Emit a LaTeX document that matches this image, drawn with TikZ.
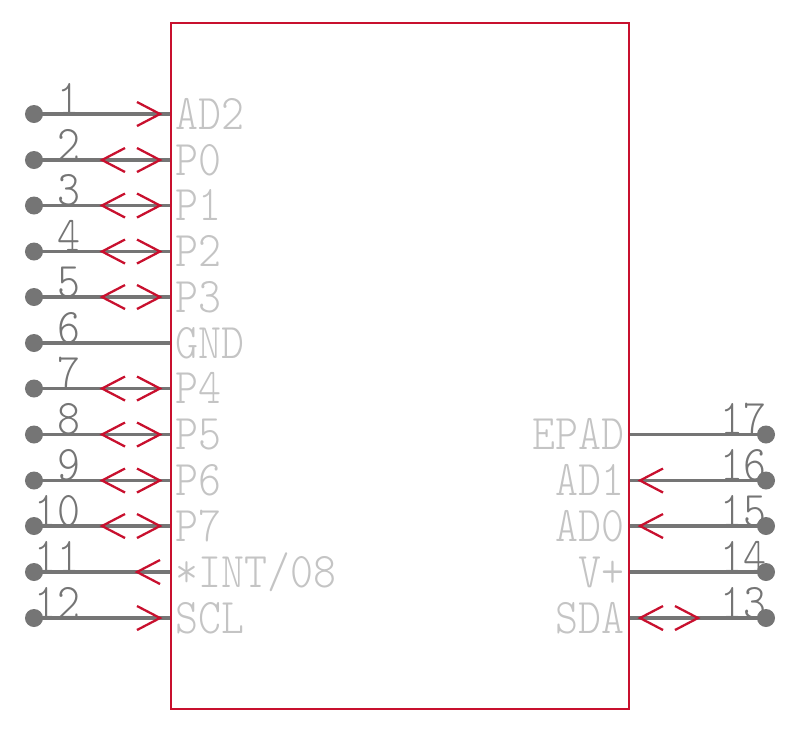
\documentclass[tikz,border=0pt]{standalone}
\usepackage{xcolor}
\usepackage{tikz}
\definecolor{chipred}{HTML}{C8102E}
\definecolor{wiregray}{HTML}{757575}
\definecolor{namegray}{HTML}{C4C4C4}
\tikzset{
  chipbox/.style={draw=chipred,line width=0.6pt,inner sep=0pt,minimum width=4.58cm,minimum height=6.86cm},
  pindot/.style={circle,fill=wiregray,inner sep=0pt,minimum size=0.18cm},
  wire/.style={draw=wiregray,line width=1pt},
  chev/.style={draw=chipred,line width=0.65pt},
  pinnum/.style={text=wiregray,font=\fontsize{14.2}{14}\fontseries{l}\ttfamily,xscale=0.875,transform shape,inner sep=0pt},
  pinname/.style={text=namegray,font=\fontsize{14.2}{14}\fontseries{l}\ttfamily,xscale=0.875,transform shape,inner sep=0pt},
  pinnone/.pic={},
  pinin/.pic={\draw[chev](-34,-12)--(-11,0)--(-34,12);},
  pinout/.pic={\draw[chev](-11,-12)--(-34,0)--(-11,12);},
  pinbi/.pic={\draw[chev](-34,-12)--(-11,0)--(-34,12);
    \draw[chev](-46,-12)--(-69,0)--(-46,12);}
}
\begin{document}
\begin{tikzpicture}[x=0.01cm,y=-0.01cm]
  \useasboundingbox (0,0) rectangle (800,732);
  % left pins
  \foreach \num/\lab/\kind/\row in {1/AD2/in/114,2/P0/bi/160,3/P1/bi/205.5,4/P2/bi/251.5,5/P3/bi/297,
      6/GND/none/343,7/P4/bi/388.5,8/P5/bi/434.5,9/P6/bi/480.5,10/P7/bi/526,11/*INT\slash08/out/572,12/SCL/in/618}{
    \node[pindot] (dot\num) at (34,\row) {};
    \draw[wire] (dot\num.center) -- (171,\row) coordinate (end\num);
    \pic at (end\num) {pin\kind};
    \node[pinnum,anchor=base east] (num\num) at (81,\row) {\num};
    \node[pinname,anchor=base west] (name\num) at (175,\row+15) {\lab};
  }
  % right pins
  \foreach \num/\lab/\kind/\row in {17/EPAD/none/434.5,16/AD1/in/480.5,15/AD0/in/526,14/V+/none/572,13/SDA/bi/618}{
    \node[pindot] (dot\num) at (766,\row) {};
    \draw[wire] (dot\num.center) -- (629,\row) coordinate (end\num);
    \pic[xscale=-1] at (end\num) {pin\kind};
    \node[pinnum,anchor=base east] (num\num) at (767,\row) {\num};
    \node[pinname,anchor=base east] (name\num) at (625,\row+15) {\lab};
  }
  \node[chipbox] (chip) at (400,366) {};
\end{tikzpicture}
\end{document}
